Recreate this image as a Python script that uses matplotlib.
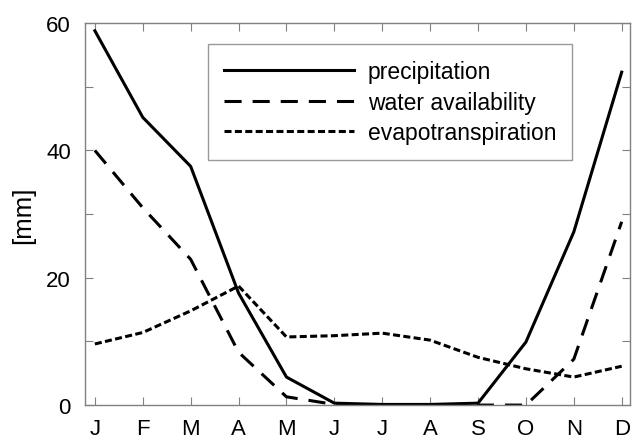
import matplotlib
matplotlib.use("Agg")
import matplotlib.pyplot as plt

months = ["J", "F", "M", "A", "M", "J", "J", "A", "S", "O", "N", "D"]
precipitation = [58.8, 45.2, 37.5, 17.6, 4.4, 0.3, 0.1, 0.1, 0.3, 9.9, 27.2, 52.3]
water_availability = [40.0, 31.0, 22.9, 8.3, 1.3, 0.1, 0.0, 0.0, 0.0, 0.0, 7.2, 28.8]
evapotranspiration = [9.6, 11.4, 14.8, 18.7, 10.7, 10.9, 11.3, 10.2, 7.5, 5.7, 4.4, 6.1]
yticks_major = [0, 20, 40, 60]
yticks_all = [0, 10, 20, 30, 40, 50, 60]

plt.rcParams['font.family'] = ['Liberation Sans', 'DejaVu Sans']

fig = plt.figure(figsize=(6.33, 4.39), dpi=100)
ax = fig.add_axes([0.134, 0.075, 0.861, 0.870])

x = list(range(len(months)))
lw = 2.2
ax.plot(x, precipitation, color='black', lw=lw, label='precipitation')
ax.plot(x, water_availability, color='black', lw=lw, dashes=(5.6, 3.6), label='water availability')
ax.plot(x, evapotranspiration, color='black', lw=lw, dashes=(2.3, 1.1), label='evapotranspiration')

ax.set_xlim(-0.21, 11.17)
ax.set_ylim(0, 60)
ax.set_xticks(x)
ax.set_xticklabels(months)
ax.set_yticks(yticks_all)
ax.set_yticklabels([str(v) if v in yticks_major else "" for v in yticks_all])
ax.tick_params(direction='in', top=True, right=True, length=6, width=0.8,
               color='#808080', labelsize=16)
ax.tick_params(axis='y', pad=10)
ax.tick_params(axis='x', pad=9)
for s in ax.spines.values():
    s.set_color('#808080')
    s.set_linewidth(1.0)
ax.set_ylabel('[mm]', fontsize=18.5, labelpad=8)

leg = ax.legend(loc='upper left', bbox_to_anchor=(0.2257, 0.945), fontsize=16.5,
                handlelength=5.7, handletextpad=0.57, frameon=True, fancybox=False,
                borderpad=0.7, labelspacing=0.33, borderaxespad=0)
leg.get_frame().set_edgecolor('#808080')
leg.get_frame().set_linewidth(1.0)

fig.savefig('out.png', dpi=100)
